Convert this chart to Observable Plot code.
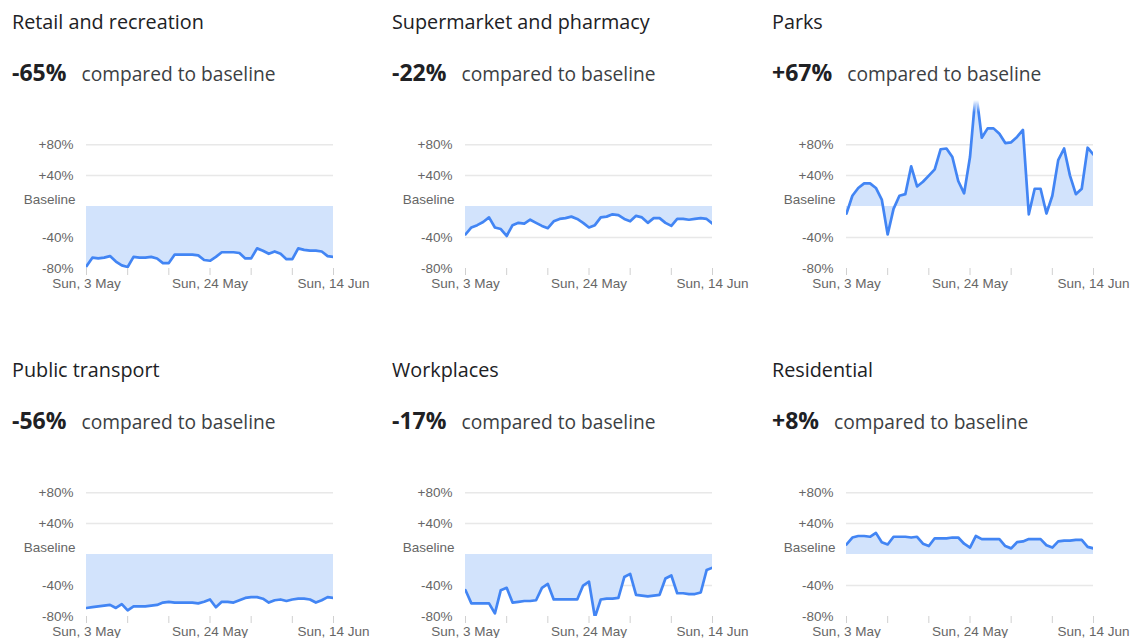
<!DOCTYPE html>
<html><head><meta charset="utf-8">
<script src="https://cdn.jsdelivr.net/npm/d3@7"></script>
<script src="https://cdn.jsdelivr.net/npm/@observablehq/plot@0.6"></script>
<style>
html,body{margin:0;padding:0;background:#fff;overflow:hidden;width:1131px;height:638px;}
.panel{position:absolute;width:380px;height:348px;}
.title{position:absolute;left:12px;top:12px;font:19.8px/19.5px 'Open Sans', sans-serif;color:#202124;white-space:nowrap;}
.value{position:absolute;left:12px;top:62px;line-height:20px;white-space:nowrap;color:#202124;font-family:'Open Sans', sans-serif;}
.value b{font-size:23px;font-weight:700;color:#202124;}
.value span{font-size:19.2px;margin-left:15px;color:#3c4043;}
.chart{position:absolute;left:0;top:100px;}
.fade{position:absolute;left:0;top:100px;width:380px;height:12px;background:linear-gradient(#fff,rgba(255,255,255,0));}
</style>
</head><body>
<div id="root"></div>
<script>
// ---- data ----
const categories = ["Retail and recreation", "Supermarket and pharmacy", "Parks", "Public transport", "Workplaces", "Residential"];
const headlines = [-65, -22, 67, -56, -17, 8];
const startDay = "2020-05-03";
const retail = [-77,-66,-67,-66,-64,-71,-76,-78,-65,-66,-66,-65,-67,-73,-73,-62,-62,-62,-62,-63,-69,-70,-65,-59,-59,-59,-60,-67,-67,-54,-57,-61,-58,-61,-68,-68,-54,-56,-57,-57,-58,-64,-65];
const grocery = [-36,-27,-24,-20,-14,-27,-29,-38,-24,-21,-22,-17,-21,-25,-28,-19,-16,-15,-13,-16,-21,-27,-24,-14,-13,-10,-11,-16,-19,-12,-14,-21,-15,-15,-21,-25,-16,-16,-17,-16,-15,-16,-22];
const parks = [-9,14,24,30,30,24,9,-36,-3,14,16,52,26,32,40,48,74,75,64,33,17,64,150,89,101,101,94,82,83,90,99,-10,23,23,-9,14,60,75,40,16,23,76,67];
const transit = [-69,-68,-67,-66,-65,-69,-64,-72,-67,-67,-67,-66,-65,-62,-61,-62,-62,-62,-62,-63,-61,-58,-68,-61,-61,-62,-59,-56,-55,-55,-57,-62,-59,-58,-60,-58,-57,-57,-58,-62,-59,-55,-56];
const workplaces = [-46,-63,-63,-63,-63,-76,-46,-43,-62,-61,-60,-60,-59,-43,-38,-58,-58,-58,-58,-58,-40,-35,-81,-58,-57,-57,-56,-29,-25,-52,-53,-54,-53,-52,-31,-27,-50,-50,-51,-51,-49,-20,-17];
const residential = [13,22,24,24,23,28,16,13,23,23,23,22,23,14,11,21,21,21,22,22,14,9,24,20,20,20,20,11,8,16,17,20,20,20,12,9,17,18,18,19,19,10,8];
const yTicks = [80, 40, 0, -40, -80];
const yTickLabels = ["+80%", "+40%", "Baseline", "-40%", "-80%"];
const xLabelDays = ["2020-05-03", "2020-05-24", "2020-06-14"];
const xTickDays = ["2020-05-03","2020-05-10","2020-05-17","2020-05-24","2020-05-31","2020-06-07","2020-06-14"];
const seriesList = [retail, grocery, parks, transit, workplaces, residential];

// ---- build ----
const parse = d3.utcParse("%Y-%m-%d");
const fmt = d3.utcFormat("%a, %-d %b");
const key = d3.utcFormat("%Y-%m-%d");
const t0 = parse(startDay);
const xTicks = xTickDays.map(parse);
const xLabels = new Set(xLabelDays);
const labelOf = v => yTickLabels[yTicks.indexOf(v)];

const root = document.getElementById("root");
const lefts = [0, 380, 760];
const tops = [0, 348];
const mLeft = [86, 85, 86];

seriesList.forEach((series, i) => {
  const col = i % 3, row = Math.floor(i / 3);
  const data = series.map((v, k) => ({date: d3.utcDay.offset(t0, k), value: v}));
  const panel = document.createElement("div");
  panel.className = "panel";
  panel.style.left = lefts[col] + "px";
  panel.style.top = tops[row] + "px";
  const h = headlines[i];
  panel.innerHTML = `<div class="title">${categories[i]}</div>
    <div class="value"><b>${h > 0 ? "+" : ""}${h}%</b><span>compared to baseline</span></div>`;
  const w = col === 2 ? 371 : 380;
  const chart = Plot.plot({
    width: w, height: 195,
    marginLeft: mLeft[col], marginRight: w - mLeft[col] - 247,
    marginTop: 0, marginBottom: 27,
    style: {fontFamily: "'Liberation Sans', Arial, sans-serif", fontSize: "13.5px", background: "transparent", overflow: "visible"},
    x: {type: "utc", domain: [data[0].date, data[data.length - 1].date]},
    y: {domain: [-80, 137]},
    marks: [
      Plot.ruleY(yTicks.filter(v => v !== -80 && v !== 0), {stroke: "#e8e8e8", strokeWidth: 1.5}),
      Plot.areaY(data, {x: "date", y1: 0, y2: "value", fill: "#d2e3fc", clip: true}),
      Plot.line(data, {x: "date", y: "value", stroke: "#4285f4", strokeWidth: 2.7, clip: true}),
      Plot.axisX({ticks: xTicks, tickSize: 7, tickPadding: 3, stroke: "#d0d0d0", fill: "#666", label: null,
        tickFormat: d => xLabels.has(key(d)) ? fmt(d) : ""}),
      Plot.axisY(yTicks.filter(v => v !== 0), {tickSize: 0, tickPadding: 13, fill: "#666", label: null, tickFormat: labelOf}),
      Plot.axisY([0], {tickSize: 0, tickPadding: 11, dy: -7, fill: "#666", label: null, tickFormat: labelOf})
    ]
  });
  chart.classList.add("chart");
  panel.appendChild(chart);
  const fade = document.createElement("div");
  fade.className = "fade";
  panel.appendChild(fade);
  root.appendChild(panel);
});
</script>
</body></html>
